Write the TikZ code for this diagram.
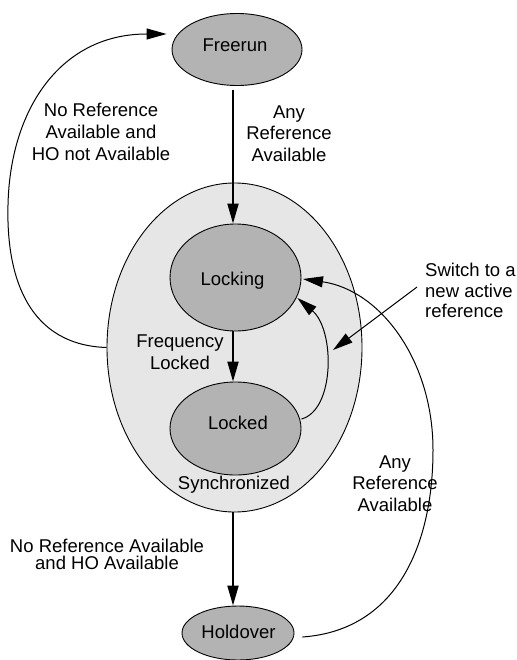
\documentclass[tikz,border=0pt]{standalone}
\usepackage{fontspec}
\setmainfont{Liberation Sans}
\usetikzlibrary{shapes.geometric,arrows.meta}
\definecolor{stategray}{HTML}{B3B3B3}
\definecolor{syncgray}{HTML}{E6E6E6}
\begin{document}
\begin{tikzpicture}[x=1pt,y=-1pt,
  state/.style={ellipse, draw, line width=0.9pt, fill=stategray, inner sep=0pt},
  lbl/.style={font=\fontsize{18.5}{21.7}\selectfont, align=center, inner sep=0pt},
  main/.style={line width=2pt, -{Triangle[length=20pt,width=11pt]}},
  thinarrow/.style={line width=1pt, -{Triangle[length=20pt,width=11pt]}}]
\useasboundingbox (0,0) rectangle (516,660);
% nodes
\node[ellipse, draw, line width=0.9pt, fill=syncgray, inner sep=0pt,
      minimum width=255pt, minimum height=329pt] (sync) at (234.5,347.5) {};
\node[state, minimum width=130pt, minimum height=72pt] (freerun) at (237,49.5) {};
\node[state, minimum width=131pt, minimum height=107pt] (locking) at (235.5,277.5) {};
\node[state, minimum width=131pt, minimum height=93pt] (locked) at (235.5,428.5) {};
\node[state, minimum width=112pt, minimum height=54pt] (holdover) at (238,633) {};
% state texts
\node[lbl] (tfree) at (235,45) {Freerun};
\node[lbl] (tlocking) at (232.5,280.4) {Locking};
\node[lbl] (tlocked) at (238,422.5) {Locked};
\node[lbl] (tsync) at (234,485) {Synchronized};
\node[lbl] (thold) at (238.5,632) {Holdover};
% transition labels
\node[lbl] (lnoref) at (101,131.7) {No Reference\\Available and\\HO not Available};
\node[lbl] (lanyref) at (289,133.5) {Any\\Reference\\Available};
\node[lbl, font=\fontsize{18.5}{20.5}\selectfont, align=left, anchor=west] (lswitch) at (425,290.5) {Switch to a\\new active\\reference};
\node[lbl] (lfreq) at (180,352) {Frequency\\Locked};
\node[lbl] (lanyref2) at (395,483.5) {Any\\Reference\\Available};
\node[lbl, font=\fontsize{18.5}{17}\selectfont] (lnorefho) at (107,554) {No Reference Available\\and HO Available};
% coordinates
\coordinate (swstart) at (417,287);
\coordinate (swend) at (333,350);
\coordinate (leftmost) at (8,205);
\coordinate (rightmost) at (433,450);
% main transitions
\draw[main] ([xshift=-4pt,yshift=-4pt]freerun.south) -- ([xshift=-2.5pt]locking.north);
\draw[main] ([xshift=-2.5pt]locking.south) -- ([xshift=-2.5pt]locked.north);
\draw[main] ([xshift=-1.5pt]sync.south) -- ([xshift=-5pt]holdover.north);
% curved transitions
\draw[thinarrow] (sync.west) .. controls (30,345) and (6,280) .. (leftmost)
   .. controls (10,110) and (60,34) .. ([xshift=-5pt,yshift=15.5pt]freerun.west);
\draw[thinarrow] ([yshift=9.5pt]locked.east) .. controls (335,410) and (335,330) .. ([xshift=-4pt,yshift=-20.5pt]locking.east);
\draw[thinarrow] ([xshift=8pt,yshift=-4pt]holdover.east) .. controls (400,630) and (433,540) .. (rightmost)
   .. controls (433,360) and (380,290) .. ([xshift=1.5pt,yshift=-1.5pt]locking.east);
\draw[thinarrow] (swstart) -- (swend);
\end{tikzpicture}
\end{document}
